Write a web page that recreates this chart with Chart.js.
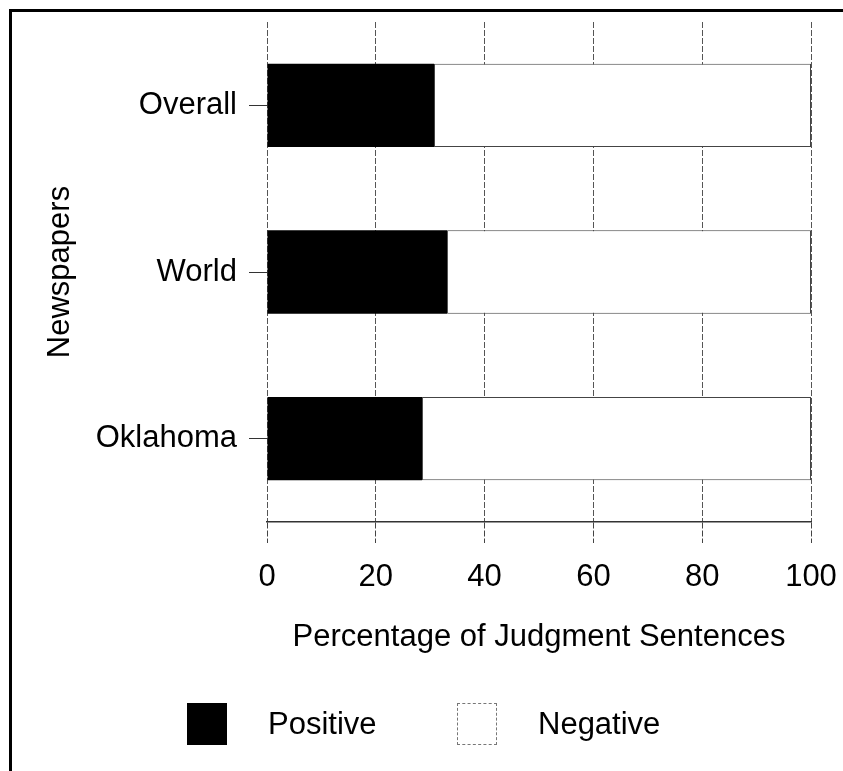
<!DOCTYPE html>
<html>
<head>
<meta charset="utf-8">
<script src="https://cdn.jsdelivr.net/npm/chart.js@4"></script>
<style>
  html, body { margin: 0; padding: 0; background: #fff; overflow: hidden; }
  #wrap { position: relative; width: 843px; height: 771px; overflow: hidden; }
  #frame { position: absolute; left: 9px; top: 9px; width: 900px; height: 900px; border: 3px solid #000; box-sizing: border-box; }
  #chart { position: absolute; left: 0; top: 0; }
  .legend-box { position: absolute; top: 703px; width: 40px; height: 42px; box-sizing: border-box; }
  .legend-text { position: absolute; top: 724px; transform: translateY(-50%); font: 31px "Liberation Sans", Arial, sans-serif; color: #000; }
</style>
</head>
<body>
<div id="wrap">
  <div id="frame"></div>
  <canvas id="chart" width="843" height="771"></canvas>
  <div class="legend-box" style="left:187px; background:#000;"></div>
  <div class="legend-text" style="left:268px;">Positive</div>
  <div class="legend-box" style="left:457px; background:#fff; border:1px dashed #777;"></div>
  <div class="legend-text" style="left:538px;">Negative</div>
</div>
<script>
const newspapers = ['Overall', 'World', 'Oklahoma'];
const positiveShare = [30.7, 33.1, 28.5];
const negativeShare = [69.3, 66.9, 71.5];
const xTicks = [0, 20, 40, 60, 80, 100];

const fontFamily = '"Liberation Sans", Arial, sans-serif';

new Chart(document.getElementById('chart'), {
  type: 'bar',
  data: {
    labels: newspapers,
    datasets: [
      {
        label: 'Positive',
        data: positiveShare,
        backgroundColor: '#000',
        borderColor: '#000',
        borderWidth: 0,
        categoryPercentage: 1,
        barPercentage: 0.5
      },
      {
        label: 'Negative',
        data: negativeShare,
        backgroundColor: '#fff',
        borderColor: '#444',
        borderWidth: 1,
        borderSkipped: false,
        categoryPercentage: 1,
        barPercentage: 0.5
      }
    ]
  },
  options: {
    indexAxis: 'y',
    responsive: false,
    animation: false,
    layout: { padding: { left: 0, top: 22, right: 32, bottom: 115 } },
    plugins: {
      legend: { display: false },
      tooltip: { enabled: false }
    },
    scales: {
      x: {
        stacked: true,
        min: 0,
        max: 100,
        afterBuildTicks: scale => { scale.ticks = xTicks.map(v => ({ value: v })); },
        afterFit: scale => {
          scale.height = 134;
          scale.paddingLeft = 0;
          scale.paddingRight = 0;
        },
        ticks: {
          color: '#000',
          padding: 16,
          font: { family: fontFamily, size: 31 }
        },
        grid: {
          color: '#555',
          lineWidth: 1,
          tickLength: 21,
          tickColor: '#444',
          tickBorderDash: [6, 2]
        },
        border: { display: true, color: '#333', width: 1.5, dash: [6, 2] },
        title: {
          display: true,
          text: 'Percentage of Judgment Sentences',
          color: '#000',
          padding: { top: 0, bottom: 0 },
          font: { family: fontFamily, size: 31 }
        }
      },
      y: {
        stacked: true,
        afterFit: scale => {
          scale.width = 267;
          scale.paddingTop = 0;
          scale.paddingBottom = 0;
        },
        ticks: {
          color: '#000',
          padding: 12,
          font: { family: fontFamily, size: 31 }
        },
        grid: {
          offset: false,
          drawOnChartArea: false,
          color: '#333',
          tickLength: 18,
          lineWidth: 1
        },
        border: { display: false },
        title: {
          display: true,
          text: 'Newspapers',
          color: '#000',
          padding: { top: 42, bottom: 0 },
          font: { family: fontFamily, size: 31 }
        }
      }
    }
  }
});
</script>
</body>
</html>
